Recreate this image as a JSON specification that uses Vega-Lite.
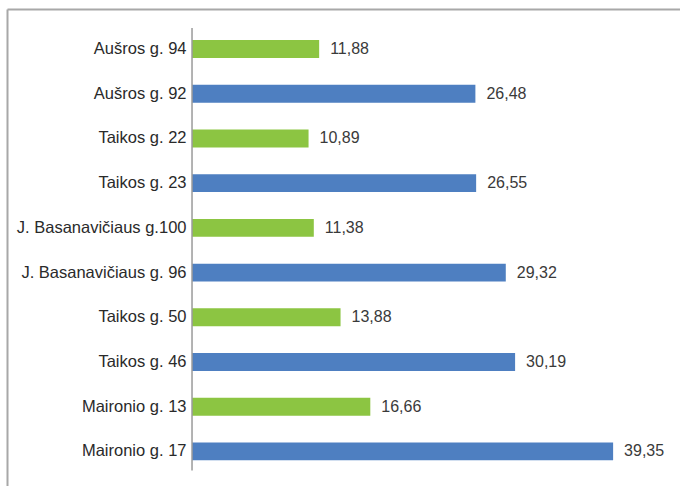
{
  "$schema": "https://vega.github.io/schema/vega-lite/v6.json",
  "autosize": "none",
  "padding": {"left": 7, "top": 9, "right": 0, "bottom": 0},
  "width": 673,
  "height": 477,
  "background": "white",
  "config": {
    "view": {"stroke": null},
    "locale": {"number": {"decimal": ",", "thousands": " ", "grouping": [3], "currency": ["", " €"]}},
    "font": "Liberation Sans"
  },
  "data": {
    "values": [
      {"label": "Aušros g. 94", "value": 11.88, "group": "green"},
      {"label": "Aušros g. 92", "value": 26.48, "group": "blue"},
      {"label": "Taikos g. 22", "value": 10.89, "group": "green"},
      {"label": "Taikos g. 23", "value": 26.55, "group": "blue"},
      {"label": "J. Basanavičiaus g.100", "value": 11.38, "group": "green"},
      {"label": "J. Basanavičiaus g. 96", "value": 29.32, "group": "blue"},
      {"label": "Taikos g. 50", "value": 13.88, "group": "green"},
      {"label": "Taikos g. 46", "value": 30.19, "group": "blue"},
      {"label": "Maironio g. 13", "value": 16.66, "group": "green"},
      {"label": "Maironio g. 17", "value": 39.35, "group": "blue"}
    ]
  },
  "encoding": {
    "y": {
      "field": "label",
      "type": "nominal",
      "sort": null,
      "scale": {"paddingInner": 0.6, "paddingOuter": 0.635, "align": 0.548},
      "axis": {
        "title": null,
        "orient": "left",
        "ticks": false,
        "tickSize": 0,
        "labelPadding": -179,
        "labelAlign": "right",
        "labelFont": "Liberation Sans",
        "labelFontSize": 16.5,
        "labelColor": "#2a2a2a",
        "labelLimit": 300,
        "domain": true,
        "domainColor": "#a8a8a8",
        "domainWidth": 2,
        "grid": false
      }
    },
    "x": {
      "field": "value",
      "type": "quantitative",
      "scale": {"domain": [-17.29, 45.6], "nice": false, "zero": false},
      "axis": {
        "title": null,
        "orient": "top",
        "labels": false,
        "ticks": false,
        "grid": false,
        "domain": true,
        "domainColor": "#a8a8a8",
        "domainWidth": 2
      }
    }
  },
  "layer": [
    {
      "mark": {"type": "bar"},
      "encoding": {
        "x": {"field": "value", "type": "quantitative"},
        "x2": {"datum": 0},
        "color": {
          "field": "group",
          "type": "nominal",
          "scale": {"domain": ["green", "blue"], "range": ["#8cc542", "#4e7fc1"]},
          "legend": null
        }
      }
    },
    {
      "mark": {"type": "text", "align": "left", "baseline": "middle", "dx": 11, "fontSize": 16, "color": "#3a3a3a", "font": "Liberation Sans"},
      "encoding": {
        "text": {"field": "value", "type": "quantitative", "format": ".2f"}
      }
    },
    {
      "data": {"values": [{"from": "Aušros g. 94", "to": "Maironio g. 17", "base": 0}]},
      "mark": {"type": "rule", "color": "#9a9a9a", "strokeWidth": 1.5, "yOffset": -21, "y2Offset": 19},
      "encoding": {
        "x": {"field": "base", "type": "quantitative"},
        "y": {"field": "from", "type": "nominal", "sort": null},
        "y2": {"field": "to"}
      }
    }
  ]
}
